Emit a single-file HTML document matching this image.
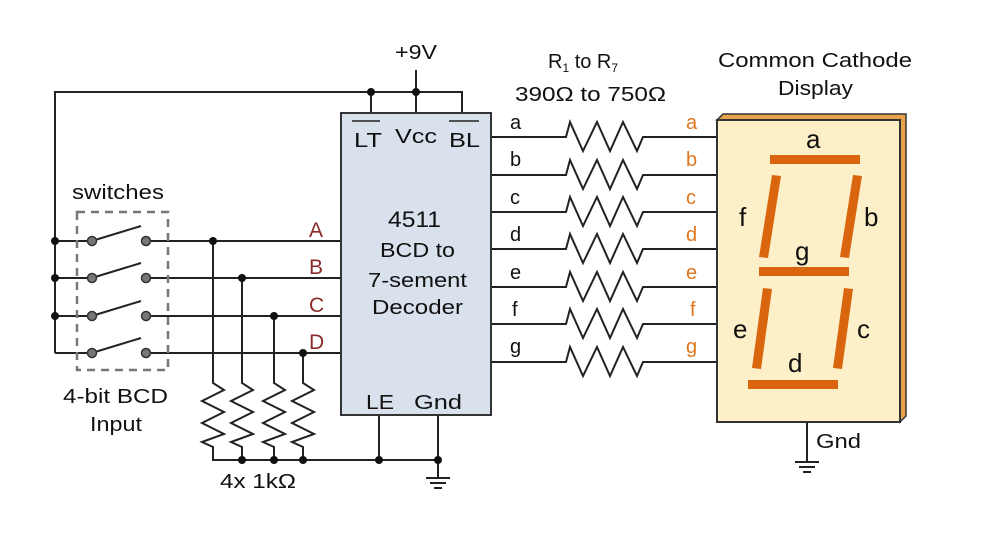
<!DOCTYPE html>
<html><head><style>
html,body{margin:0;padding:0;background:#fff;}
svg{display:block;}
text{font-family:"Liberation Sans",sans-serif;}
</style></head><body>
<svg width="992" height="534" viewBox="0 0 992 534" xmlns="http://www.w3.org/2000/svg">
<g stroke="#222" stroke-width="2" fill="none">
<polyline points="55,353 55,92 462,92 462,113"/>
<line x1="371" y1="92" x2="371" y2="113"/>
<line x1="416" y1="70" x2="416" y2="113"/>
<line x1="55" y1="241" x2="88" y2="241"/><line x1="150" y1="241" x2="341" y2="241"/>
<line x1="55" y1="278" x2="88" y2="278"/><line x1="150" y1="278" x2="341" y2="278"/>
<line x1="55" y1="316" x2="88" y2="316"/><line x1="150" y1="316" x2="341" y2="316"/>
<line x1="55" y1="353" x2="88" y2="353"/><line x1="150" y1="353" x2="341" y2="353"/>
<line x1="95" y1="240" x2="141" y2="226"/>
<line x1="95" y1="277" x2="141" y2="263"/>
<line x1="95" y1="315" x2="141" y2="301"/>
<line x1="95" y1="352" x2="141" y2="338"/>
<polyline points="213,241 213,383 224,390 202,401 224,412 202,423 224,434 202,442 213,447 213,460 438,460"/>
<polyline points="242,278 242,383 253,390 231,401 253,412 231,423 253,434 231,442 242,447 242,460"/>
<polyline points="274,316 274,383 285,390 263,401 285,412 263,423 285,434 263,442 274,447 274,460"/>
<polyline points="303,353 303,383 314,390 292,401 314,412 292,423 314,434 292,442 303,447 303,460"/>
<line x1="379" y1="415" x2="379" y2="460"/>
<line x1="438" y1="415" x2="438" y2="478"/>
<line x1="426" y1="478" x2="450" y2="478"/><line x1="430" y1="483" x2="446" y2="483"/><line x1="434" y1="488" x2="442" y2="488"/>
<line x1="807" y1="422" x2="807" y2="462"/>
<line x1="795" y1="462" x2="819" y2="462"/><line x1="799" y1="467" x2="815" y2="467"/><line x1="803" y1="472" x2="811" y2="472"/>
</g>
<g stroke="#222" stroke-width="2" fill="none">
<polyline id="r" points="491,0 566,0 570,-15 583,14 597,-15 610,14 623,-15 637,14 643,0 717,0" transform="translate(0,137)"/>
<use href="#r" transform="translate(0,38)"/>
<use href="#r" transform="translate(0,75)"/>
<use href="#r" transform="translate(0,112)"/>
<use href="#r" transform="translate(0,150)"/>
<use href="#r" transform="translate(0,187)"/>
<use href="#r" transform="translate(0,225)"/>
</g>
<rect x="77" y="212" width="91" height="158" fill="none" stroke="#777" stroke-width="2.5" stroke-dasharray="8,6"/>
<g fill="#777" stroke="#333" stroke-width="1.5">
<circle cx="92" cy="241" r="4.5"/><circle cx="146" cy="241" r="4.5"/>
<circle cx="92" cy="278" r="4.5"/><circle cx="146" cy="278" r="4.5"/>
<circle cx="92" cy="316" r="4.5"/><circle cx="146" cy="316" r="4.5"/>
<circle cx="92" cy="353" r="4.5"/><circle cx="146" cy="353" r="4.5"/>
</g>
<g fill="#111">
<circle cx="371" cy="92" r="4"/><circle cx="416" cy="92" r="4"/>
<circle cx="55" cy="241" r="4"/><circle cx="55" cy="278" r="4"/><circle cx="55" cy="316" r="4"/>
<circle cx="213" cy="241" r="4"/><circle cx="242" cy="278" r="4"/><circle cx="274" cy="316" r="4"/><circle cx="303" cy="353" r="4"/>
<circle cx="242" cy="460" r="4"/><circle cx="274" cy="460" r="4"/><circle cx="303" cy="460" r="4"/>
<circle cx="379" cy="460" r="4"/><circle cx="438" cy="460" r="4"/>
</g>
<rect x="341" y="113" width="150" height="302" fill="#d9e1ec" stroke="#333" stroke-width="2"/>
<polygon points="717,120 723,114 906,114 906,416 900,422 900,120" fill="#e8a34a" stroke="#333" stroke-width="1.5"/>
<rect x="717" y="120" width="183" height="302" fill="#fdefc8" stroke="#333" stroke-width="2"/>
<g fill="#d9650f">
<rect x="770" y="155" width="90" height="9"/>
<polygon points="772,175 781,176 768,258 759,257"/>
<polygon points="853,175 862,176 849,258 840,257"/>
<rect x="759" y="267" width="90" height="9"/>
<polygon points="763,288 772,289 761,369 752,368"/>
<polygon points="844,288 853,289 842,369 833,368"/>
<rect x="748" y="380" width="90" height="9"/>
</g>
<g font-size="20" fill="#111" lengthAdjust="spacingAndGlyphs">
<text x="806" y="148" font-size="26">a</text>
<text x="864" y="226" font-size="26">b</text>
<text x="857" y="338" font-size="26">c</text>
<text x="788" y="372" font-size="26">d</text>
<text x="733" y="338" font-size="26">e</text>
<text x="739" y="226" font-size="26">f</text>
<text x="795" y="260" font-size="26">g</text>
<text x="718" y="67" textLength="194" lengthAdjust="spacingAndGlyphs">Common Cathode</text>
<text x="778" y="95" textLength="75" lengthAdjust="spacingAndGlyphs">Display</text>
<text x="816" y="448" textLength="45" lengthAdjust="spacingAndGlyphs">Gnd</text>
<text x="395" y="59" textLength="42" lengthAdjust="spacingAndGlyphs">+9V</text>
<text x="548" y="68">R<tspan font-size="12" dy="4">1</tspan><tspan dy="-4"> to R</tspan><tspan font-size="12" dy="4">7</tspan></text>
<text x="515" y="101" textLength="151" lengthAdjust="spacingAndGlyphs">390Ω to 750Ω</text>
<text x="354" y="147" textLength="28" lengthAdjust="spacingAndGlyphs">LT</text>
<text x="395" y="143" textLength="42" lengthAdjust="spacingAndGlyphs">Vcc</text>
<text x="449" y="147" textLength="31" lengthAdjust="spacingAndGlyphs">BL</text>
<line x1="352" y1="121" x2="380" y2="121" stroke="#222" stroke-width="1.5"/>
<line x1="449" y1="121" x2="479" y2="121" stroke="#222" stroke-width="1.5"/>
<text x="388" y="227" font-size="22" textLength="53" lengthAdjust="spacingAndGlyphs">4511</text>
<text x="380" y="257" textLength="75" lengthAdjust="spacingAndGlyphs">BCD to</text>
<text x="368" y="287" textLength="99" lengthAdjust="spacingAndGlyphs">7-sement</text>
<text x="372" y="314" textLength="91" lengthAdjust="spacingAndGlyphs">Decoder</text>
<text x="366" y="409" textLength="28" lengthAdjust="spacingAndGlyphs">LE</text>
<text x="414" y="409" textLength="48" lengthAdjust="spacingAndGlyphs">Gnd</text>
<text x="72" y="199" textLength="92" lengthAdjust="spacingAndGlyphs">switches</text>
<text x="63" y="403" textLength="105" lengthAdjust="spacingAndGlyphs">4-bit BCD</text>
<text x="90" y="431" textLength="52" lengthAdjust="spacingAndGlyphs">Input</text>
<text x="220" y="488" textLength="76" lengthAdjust="spacingAndGlyphs">4x 1kΩ</text>
</g>
<g font-size="20" fill="#111">
<text x="510" y="129">a</text><text x="510" y="166">b</text><text x="510" y="204">c</text><text x="510" y="241">d</text><text x="510" y="279">e</text><text x="512" y="316">f</text><text x="510" y="353">g</text>
</g>
<g font-size="20" fill="#e0761e">
<text x="686" y="129">a</text><text x="686" y="166">b</text><text x="686" y="204">c</text><text x="686" y="241">d</text><text x="686" y="279">e</text><text x="690" y="316">f</text><text x="686" y="353">g</text>
</g>
<g font-size="21" fill="#8b2a2a">
<text x="309" y="237">A</text><text x="309" y="274">B</text><text x="309" y="312">C</text><text x="309" y="349">D</text>
</g>
</svg>
</body></html>
